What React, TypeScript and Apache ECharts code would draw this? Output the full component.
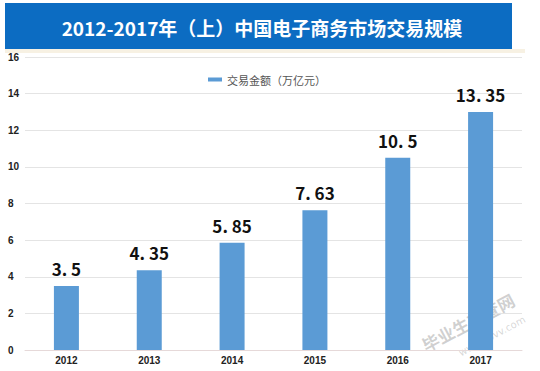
import React, { useEffect, useRef } from "react";
import * as echarts from "echarts";

const years = ["2012", "2013", "2014", "2015", "2016", "2017"];
const amounts = [3.5, 4.35, 5.85, 7.63, 10.5, 13.0];
const amountLabels = ["3. 5", "4. 35", "5. 85", "7. 63", "10. 5", "13. 35"];
const seriesName = "交易金额（万亿元）";
const titleText = "2012-2017年（上）中国电子商务市场交易规模";

export default function App() {
  const ref = useRef<HTMLDivElement>(null);
  useEffect(() => {
    if (!ref.current) return;
    const chart = echarts.init(ref.current, null, { renderer: "svg" });
    chart.setOption({
      animation: false,
      backgroundColor: "#ffffff",
      graphic: [
        { type: "rect", shape: { x: 5, y: 3, width: 507, height: 46 }, style: { fill: "#0c6cc2" } },
        { type: "rect", shape: { x: 5, y: 49, width: 520, height: 4 }, style: { fill: "#f7f1e3" } },
        {
          type: "text",
          x: 262,
          y: 27,
          style: {
            text: titleText,
            fill: "#ffffff",
            font: "bold 19px 'Noto Sans CJK SC', sans-serif",
            textAlign: "center",
            textVerticalAlign: "middle",
          },
        },
        {
          type: "text",
          x: 468,
          y: 322,
          rotation: (28 * Math.PI) / 180,
          style: {
            text: "毕业生查查网",
            fill: "rgba(120,120,120,0.35)",
            font: "bold 17px 'Noto Sans CJK SC', sans-serif",
            textAlign: "center",
            textVerticalAlign: "middle",
          },
        },
        {
          type: "text",
          x: 492,
          y: 336,
          rotation: (28 * Math.PI) / 180,
          style: {
            text: "www.sbvv.com",
            fill: "rgba(120,120,120,0.3)",
            font: "10px 'DejaVu Sans', sans-serif",
            textAlign: "center",
            textVerticalAlign: "middle",
          },
        },
      ],
      legend: {
        data: [seriesName],
        top: 69,
        left: 203,
        itemWidth: 14,
        itemHeight: 4,
        itemGap: 4,
        icon: "rect",
        textStyle: { color: "#555", fontSize: 11, fontFamily: "'Noto Sans CJK SC', serif" },
      },
      grid: { left: 25, right: 18, top: 57, bottom: 21 },
      xAxis: {
        type: "category",
        data: years,
        axisLine: { lineStyle: { color: "#e6d9d9" } },
        axisTick: { show: false },
        axisLabel: {
          color: "#222",
          fontSize: 10,
          fontWeight: "bold",
          fontFamily: "Arial, 'Liberation Sans', sans-serif",
          margin: 5,
        },
      },
      yAxis: {
        type: "value",
        min: 0,
        max: 16,
        interval: 2,
        axisLine: { show: false },
        axisTick: { show: false },
        splitLine: { lineStyle: { color: "#e4e4e4" } },
        axisLabel: {
          color: "#222",
          fontSize: 10,
          fontWeight: "bold",
          fontFamily: "Arial, 'Liberation Sans', sans-serif",
          align: "left",
          margin: 17,
        },
      },
      series: [
        {
          name: seriesName,
          type: "bar",
          data: amounts,
          barWidth: 25,
          itemStyle: { color: "#5b9bd5" },
          label: {
            show: true,
            position: "top",
            distance: 9,
            color: "#111",
            fontSize: 17,
            fontWeight: "bold",
            fontFamily: "'Noto Sans CJK SC', sans-serif",
            formatter: (p: any) => amountLabels[p.dataIndex],
          },
        },
      ],
    });
    return () => chart.dispose();
  }, []);
  return <div ref={ref} style={{ position: "fixed", left: 0, top: 0, width: 540, height: 371 }} />;
}
